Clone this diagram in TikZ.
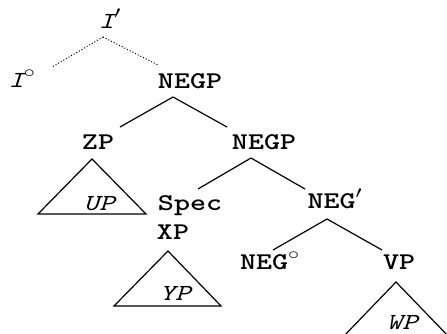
\documentclass[tikz,border=0pt]{standalone}
\usepackage{fontspec}
\usetikzlibrary{positioning}

% typewriter labels, set a little wider than normal
\newcommand{\widen}[1]{\scalebox{1.27}[1]{#1}}

\begin{document}
\begin{tikzpicture}[x=1pt, y=-1pt,
    every node/.style={inner sep=0pt, text height=14pt, text depth=0pt},
    cat/.style={font=\ttfamily\bfseries\fontsize{24}{24}\selectfont},
    lex/.style={font=\ttfamily\itshape\fontsize{23}{23}\selectfont},
    branch/.style={line width=1.2pt},
    trace/.style={line width=1pt, dotted}]
    \useasboundingbox (0,0) rectangle (447,333);
    \clip (0,0) rectangle (447,333);

    % labels
    \node[lex] (ibar)    at (110,21)  {\widen{I$'$}};
    \node[lex] (izero)   at (22,80)   {\widen{I$^\circ$}};
    \node[cat] (negp)    at (190,81)  {\widen{NEGP}};
    \node[cat] (zp)      at (98,142)  {\widen{ZP}};
    \node[cat] (negp2)   at (264,142) {\widen{NEGP}};
    \node[lex] (up)      at (99,203)  {\widen{UP}};
    \node[cat] (spec)    at (190,203) {\widen{Spec}};
    \node[cat] (xp)      at (173,232) {\widen{XP}};
    \node[cat] (negbar)  at (335,201) {\widen{NEG$'$}};
    \node[lex] (yp)      at (175,293) {\widen{YP}};
    \node[cat] (negzero) at (270,262) {\widen{NEG$^\circ$}};
    \node[cat] (vp)      at (399,262) {\widen{VP}};
    \node[lex] (wp)      at (402,322) {\widen{WP}};

    % branch ends
    \coordinate (ibar-b)    at (103,37);
    \coordinate (izero-t)   at (52,67);
    \coordinate (negp-t)    at (158,65);
    \coordinate (negp-b)    at (173,97);
    \coordinate (zp-t)      at (120,127);
    \coordinate (negp2-t)   at (227,127);
    \coordinate (negp2-b)   at (251,158);
    \coordinate (spec-t)    at (198,189);
    \coordinate (negbar-t)  at (305,189);
    \coordinate (negbar-b)  at (327,219);
    \coordinate (negzero-t) at (273,250);
    \coordinate (vp-t)      at (382,250);

    % triangle corners
    \coordinate (zp-b)  at (92,159);
    \coordinate (up-l)  at (38,214);
    \coordinate (up-r)  at (146,214);
    \coordinate (xp-b)  at (168,251);
    \coordinate (yp-l)  at (114,306);
    \coordinate (yp-r)  at (221,306);
    \coordinate (vp-b)  at (396,282);
    \coordinate (wp-l)  at (342,338);
    \coordinate (wp-r)  at (450,338);

    % dotted branches
    \draw[trace] (ibar-b) -- (izero-t);
    \draw[trace] (ibar-b) -- (negp-t);

    % solid branches
    \draw[branch] (negp-b) -- (zp-t);
    \draw[branch] (negp-b) -- (negp2-t);
    \draw[branch] (negp2-b) -- (spec-t);
    \draw[branch] (negp2-b) -- (negbar-t);
    \draw[branch] (negbar-b) -- (negzero-t);
    \draw[branch] (negbar-b) -- (vp-t);

    % triangles
    \draw[branch] (zp-b) -- (up-l) -- (up-r) -- cycle;
    \draw[branch] (xp-b) -- (yp-l) -- (yp-r) -- cycle;
    \draw[branch] (vp-b) -- (wp-l) -- (wp-r) -- cycle;
\end{tikzpicture}
\end{document}
